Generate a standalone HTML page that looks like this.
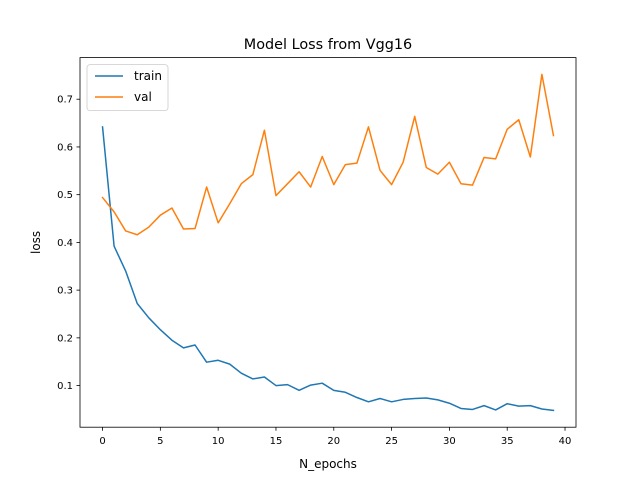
<!DOCTYPE html>
<html><head><meta charset="utf-8"><style>
html,body{margin:0;padding:0;background:#fff;}
svg{display:block;font-family:"DejaVu Sans","Liberation Sans",sans-serif;}
</style></head><body>
<svg id="chart" width="640" height="480" xmlns="http://www.w3.org/2000/svg">
<rect width="640" height="480" fill="#fff"/>
<text x="328" y="49" font-size="14.4" text-anchor="middle">Model Loss  from Vgg16</text>
<g id="ticks"></g>
<g id="lines"></g>
<rect x="80" y="57.6" width="496" height="369.6" fill="none" stroke="#000" stroke-width="0.8"/>
<text x="328" y="468" font-size="12" text-anchor="middle">N_epochs</text>
<text transform="translate(40,242.4) rotate(-90)" font-size="12" text-anchor="middle">loss</text>
<g>
<rect x="87" y="64.6" width="81" height="46" rx="3" fill="#fff" fill-opacity="0.8" stroke="#ccc" stroke-width="0.8"/>
<g><line x1="95" y1="76" x2="123" y2="76" stroke="#1f77b4" stroke-width="1.5"/><text x="134" y="80" font-size="12">train</text></g>
<g><line x1="95" y1="97" x2="123" y2="97" stroke="#ff7f0e" stroke-width="1.5"/><text x="134" y="101" font-size="12">val</text></g>
</g>
</svg>
<script>
const trainLoss=[0.642,0.392,0.340,0.272,0.242,0.217,0.195,0.179,0.185,0.149,0.153,0.145,0.126,0.114,0.118,0.100,0.102,0.090,0.101,0.105,0.090,0.086,0.075,0.066,0.073,0.066,0.071,0.073,0.074,0.070,0.063,0.052,0.050,0.058,0.049,0.062,0.057,0.058,0.051,0.048];
const valLoss=[0.494,0.464,0.424,0.416,0.432,0.457,0.472,0.428,0.429,0.516,0.441,0.481,0.523,0.542,0.635,0.498,0.523,0.548,0.516,0.580,0.521,0.563,0.566,0.642,0.551,0.521,0.568,0.664,0.557,0.543,0.568,0.523,0.520,0.578,0.575,0.637,0.657,0.579,0.752,0.624];
const xTicks=[0,5,10,15,20,25,30,35,40];
const yTicks=[0.1,0.2,0.3,0.4,0.5,0.6,0.7];
const NS="http://www.w3.org/2000/svg";
const L=80,R=576,T=57.6,B=427.2;
const n=trainLoss.length;
const xmin=-(n-1)*0.05,xmax=(n-1)*1.05;
const all=trainLoss.concat(valLoss);
const dmin=Math.min(...all),dmax=Math.max(...all),pad=(dmax-dmin)*0.05;
const ymin=dmin-pad,ymax=dmax+pad;
const sx=v=>L+(v-xmin)/(xmax-xmin)*(R-L);
const sy=v=>B-(v-ymin)/(ymax-ymin)*(B-T);
const tg=document.getElementById('ticks');
function mk(tag,attrs){const e=document.createElementNS(NS,tag);for(const k in attrs)e.setAttribute(k,attrs[k]);return e;}
xTicks.forEach(t=>{const x=sx(t);
 const l=mk('line',{x1:x,y1:B,x2:x,y2:B+3.5,stroke:'#000','stroke-width':0.8});
 
 
 tg.appendChild(l);
 const s=mk('text',{x:x,y:B+17,'font-size':10,'text-anchor':'middle'});s.textContent=t;
 
 
 tg.appendChild(s);});
yTicks.forEach(t=>{const y=sy(t);
 const l=mk('line',{x1:L-3.5,y1:y,x2:L,y2:y,stroke:'#000','stroke-width':0.8});
 
 
 tg.appendChild(l);
 const s=mk('text',{x:L-7,y:y+3.5,'font-size':10,'text-anchor':'end'});s.textContent=t.toFixed(1);
 
 
 tg.appendChild(s);});
const lg=document.getElementById('lines');
function series(arr,color,name){
 const p=mk('polyline',{points:arr.map((v,i)=>sx(i)+','+sy(v)).join(' '),fill:'none',stroke:color,'stroke-width':1.5,'stroke-linejoin':'round','stroke-linecap':'square'});
 
 
 lg.appendChild(p);}
series(trainLoss,'#1f77b4','train-line');
series(valLoss,'#ff7f0e','val-line');
</script>
</body></html>
